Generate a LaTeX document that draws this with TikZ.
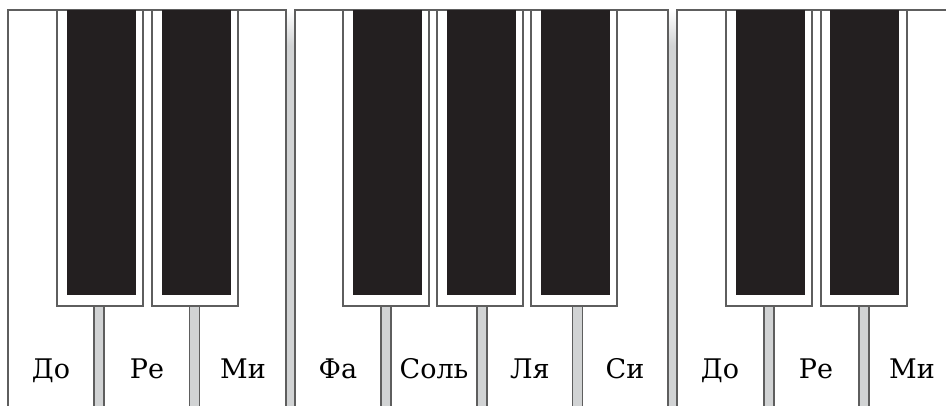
\documentclass[tikz,border=0pt]{standalone}
\usepackage{fontspec}
\setmainfont{DejaVu Serif}
\definecolor{edgegray}{HTML}{5E5E5E}
\definecolor{barfill}{HTML}{D1D3D4}
\definecolor{keyblack}{HTML}{231F20}
\tikzset{
  edge/.style={draw=edgegray, line width=1.4pt},
  lab/.style={anchor=base, font=\fontsize{27}{32}\selectfont, text=black, inner sep=0pt},
}
\begin{document}
\begin{tikzpicture}[x=1pt,y=-1pt]
\useasboundingbox (0,0) rectangle (946,406);
\fill[white] (0,0) rectangle (946,406);
\clip (0,0) rectangle (946,406);
% gaps between octave groups
\foreach \a/\b in {286/295, 668/677}{
  \fill[barfill] (\a,45) rectangle (\b,420);
  \shade[top color=white, bottom color=barfill] (\a,10) rectangle (\b,45.5);
}
% octave groups
\draw[edge, fill=white] (8,420) |- (286,10) -- (286,420);
\draw[edge, fill=white] (295,420) |- (668,10) -- (668,420);
\draw[edge, fill=white] (677,420) |- (960,10) -- (960,420);
% black keys with frames and stems
\foreach \o/\k/\s in {57/67/94, 152/162/189.5, 343/353/381, 437/447/477, 531/541/572.5, 726/736/764, 821/830/859}{
  \draw[edge, fill=barfill] (\s,306) rectangle ({\s+10},420);
  \draw[edge, fill=white] (\o,10) rectangle ({\o+86},306);
  \fill[keyblack] (\k,10) rectangle ({\k+69},295);
}
% labels
\node[lab] (do1) at (51,378) {До};
\node[lab] (re1) at (147,378) {Ре};
\node[lab] (mi1) at (243,378) {Ми};
\node[lab] (fa) at (338,378) {Фа};
\node[lab] (sol) at (434,378) {Соль};
\node[lab] (lya) at (530,378) {Ля};
\node[lab] (si) at (625,378) {Си};
\node[lab] (do2) at (720,378) {До};
\node[lab] (re2) at (816,378) {Ре};
\node[lab] (mi2) at (912,378) {Ми};
\end{tikzpicture}
\end{document}
